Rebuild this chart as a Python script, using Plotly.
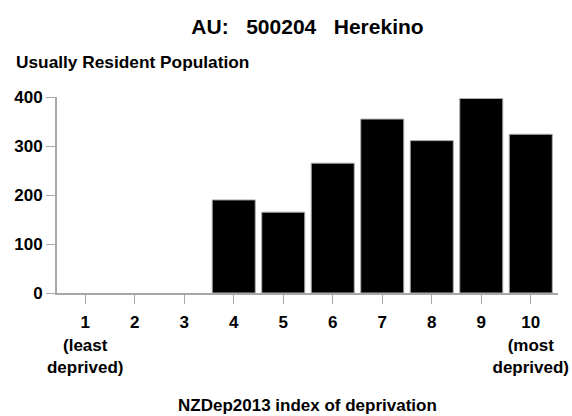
import plotly.graph_objects as go

categories = [1, 2, 3, 4, 5, 6, 7, 8, 9, 10]
tick_labels = ["1<br>(least<br>deprived)", "2", "3", "4", "5", "6", "7", "8", "9", "10<br>(most<br>deprived)"]
population = [0, 0, 0, 190, 165, 265, 355, 311, 397, 324]
y_ticks = [0, 100, 200, 300, 400]

FONT = "Liberation Sans, Arial, sans-serif"
NB = "\u00a0"
title_text = "AU:" + NB * 3 + "500204" + NB * 3 + "Herekino"

fig = go.Figure(go.Bar(
    x=categories, y=population, width=0.87,
    marker=dict(color="black",
                line=dict(color="#b0b0b0", width=[0 if v == 0 else 1 for v in population])),
))

fig.update_layout(
    width=572, height=416,
    margin=dict(l=57, r=14, t=97, b=123),
    plot_bgcolor="white", paper_bgcolor="white",
    showlegend=False,
    font=dict(family=FONT, size=17, color="black", weight="bold"),
    title=dict(text=title_text, xref="paper", x=0.5, xanchor="center",
               yref="container", y=1 - 27 / 416, yanchor="middle",
               font=dict(family=FONT, size=21, color="black", weight="bold")),
    annotations=[
        dict(text="Usually Resident Population", xref="paper", yref="paper",
             x=-43 / 501, y=(293 - 62) / 196, xanchor="left", yanchor="middle", showarrow=False,
             font=dict(family=FONT, size=17.3, color="black", weight="bold")),
        dict(text="NZDep2013 index of deprivation", xref="paper", yref="paper",
             x=0.5, y=(293 - 405) / 196, xanchor="center", yanchor="middle", showarrow=False,
             font=dict(family=FONT, size=17, color="black", weight="bold")),
    ],
)

fig.update_xaxes(
    range=[0.43, 10.55], tickvals=categories, ticktext=tick_labels,
    showline=True, linecolor="#a8a8a8", linewidth=2,
    ticks="outside", ticklen=9, tickcolor="#a8a8a8", tickwidth=1,
    showgrid=False, zeroline=False, automargin=False, ticklabelstandoff=4,
    tickfont=dict(family=FONT, size=17, color="black", weight="bold"),
)
fig.update_yaxes(
    range=[0, 400], tickvals=y_ticks,
    showline=True, linecolor="#a8a8a8", linewidth=2,
    ticks="outside", ticklen=9, tickcolor="#a8a8a8", tickwidth=1,
    showgrid=False, zeroline=False, automargin=False,
    tickfont=dict(family=FONT, size=17, color="black", weight="bold"),
)

fig.write_html("out.html", config={"displayModeBar": False},
               post_script="document.body.style.margin='0';")
